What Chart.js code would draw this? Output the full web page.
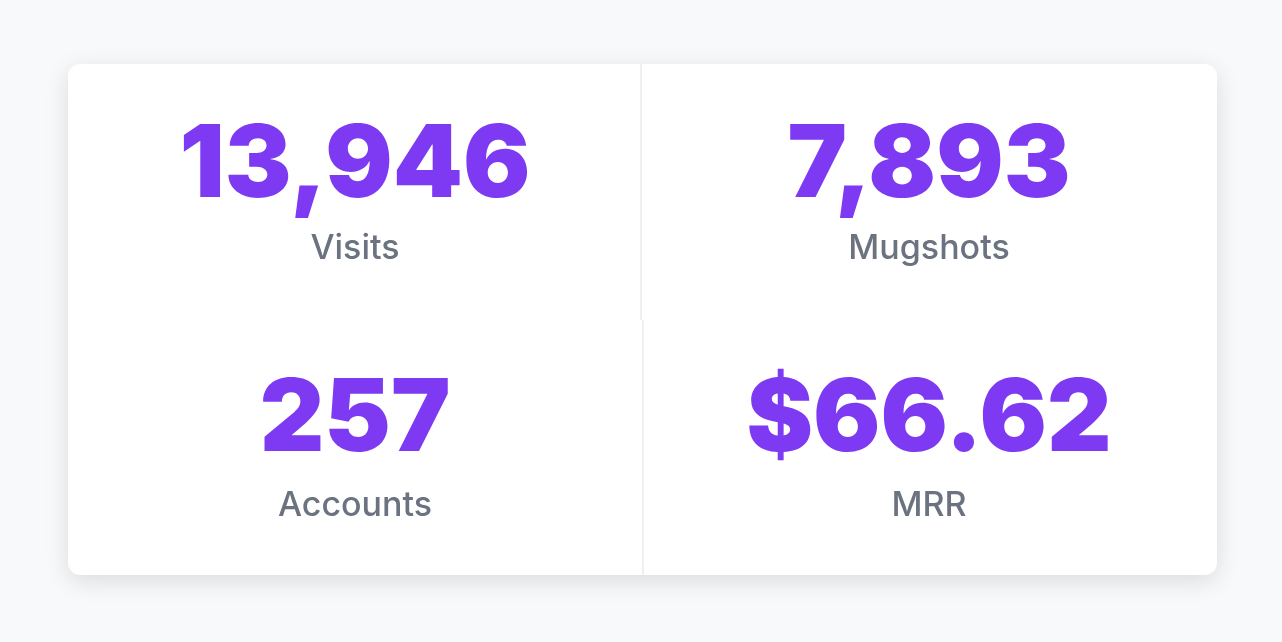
<!DOCTYPE html>
<html>
<head>
<meta charset="utf-8">
<script src="https://cdn.jsdelivr.net/npm/chart.js@4.4.0/dist/chart.umd.min.js"></script>
<style>
  html, body { margin: 0; padding: 0; background: #f8f9fb; }
  #wrap { width: 1282px; height: 642px; }
</style>
</head>
<body>
<div id="wrap"><canvas id="stats"></canvas></div>
<script>
// stat tiles, read left to right, top to bottom
const labels = ['Visits', 'Mugshots', 'Accounts', 'MRR'];
const values = ['13,946', '7,893', '257', '$66.62'];

const PURPLE = '#7e3af2';
const GRIS = '#6b7280';

// draws the card and the four stat cells
const tarjetaPlugin = {
  id: 'tarjeta',
  beforeDraw(chart) {
    const c = chart.ctx;
    c.save();
    c.fillStyle = '#f8f9fb';
    c.fillRect(0, 0, chart.width, chart.height);
    const x = 68, y = 64, w = 1149, h = 511, r = 12;
    c.shadowColor = 'rgba(0,0,0,0.12)';
    c.shadowBlur = 24;
    c.shadowOffsetY = 6;
    c.fillStyle = '#ffffff';
    c.beginPath();
    c.roundRect(x, y, w, h, r);
    c.fill();
    c.shadowColor = 'transparent';
    c.strokeStyle = '#eeeff2';
    c.lineWidth = 2;
    c.beginPath(); c.moveTo(641, y); c.lineTo(641, 320); c.stroke();
    c.beginPath(); c.moveTo(643, 320); c.lineTo(643, y + h); c.stroke();
    c.restore();
  },
  afterDraw(chart) {
    const c = chart.ctx;
    const cols = [355, 929];
    const filas = [[197, 259], [451, 516]];
    c.save();
    c.textAlign = 'center';
    c.textBaseline = 'alphabetic';
    labels.forEach((lab, i) => {
      const cx = cols[i % 2];
      const [yn, yl] = filas[Math.floor(i / 2)];
      c.fillStyle = PURPLE;
      c.font = '900 100px Inter, "Noto Sans", sans-serif';
      c.fillText(values[i], cx, yn);
      c.fillStyle = GRIS;
      c.font = '500 34px Inter, "Noto Sans", sans-serif';
      c.fillText(lab, cx, yl);
    });
    c.restore();
  }
};

new Chart(document.getElementById('stats'), {
  type: 'bar',
  data: { labels: labels, datasets: [{ data: [], label: 'stats' }] },
  options: {
    responsive: true,
    maintainAspectRatio: false,
    animation: false,
    events: [],
    plugins: { legend: { display: false }, tooltip: { enabled: false } },
    scales: { x: { display: false }, y: { display: false } }
  },
  plugins: [tarjetaPlugin]
});
</script>
</body>
</html>
